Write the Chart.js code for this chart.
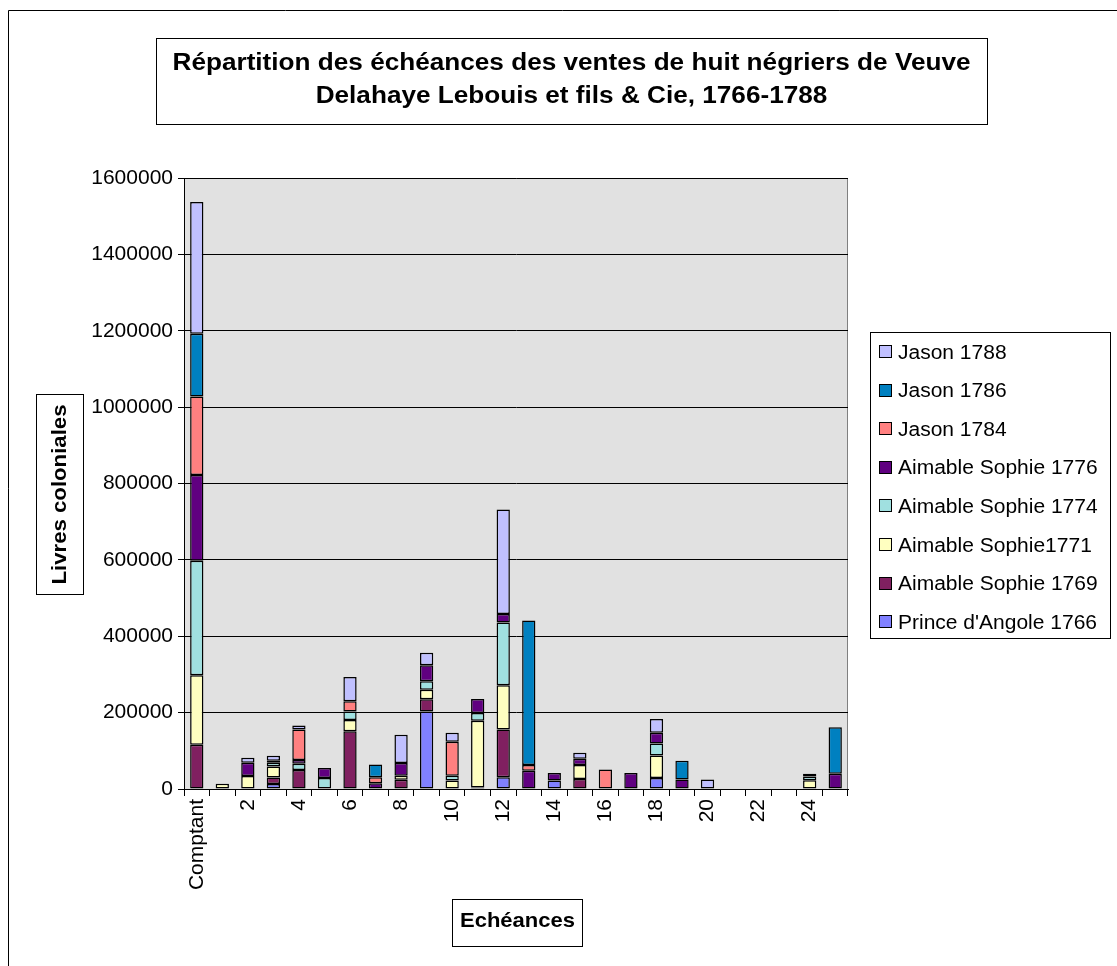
<!DOCTYPE html>
<html><head><meta charset="utf-8">
<script src="https://cdn.jsdelivr.net/npm/chart.js@4/dist/chart.umd.min.js"></script>
<style>html,body{margin:0;padding:0;background:#fff;overflow:hidden}#wrap{position:relative;width:1117px;height:966px}</style>
</head><body><div id="wrap"><canvas id="c" width="1117" height="966"></canvas></div>
<script>
const categories = ['Comptant','1','2','3','4','5','6','7','8','9','10','11','12','13','14','15','16','17','18','19','20','21','22','23','24','25'];
const tickLabelsShown = ['Comptant','2','4','6','8','10','12','14','16','18','20','22','24'];
const seriesNames = ["Prince d'Angole 1766","Aimable Sophie 1769","Aimable Sophie1771","Aimable Sophie 1774","Aimable Sophie 1776","Jason 1784","Jason 1786","Jason 1788"];
const seriesColors = ['#8080FF','#802060','#FFFFC0','#A0E0E0','#600080','#FF8080','#0080C0','#C0C0FF'];
//                  Cpt   1     2     3     4     5     6     7     8     9      10    11     12     13     14    15    16    17    18    19    20    21 22 23 24    25
const prince1766 = [0,    0,    0,    13000,0,    0,    0,    0,    0,    203000,0,    0,     31000, 0,     22000,0,    0,    0,    29000,0,    0,    0, 0, 0, 0,    0];
const sophie1769 = [116000,0,   0,    17000,50000,0,    151000,0,   24000,32000, 0,    4000,  125000,0,     0,    26000,0,    0,    0,    0,    0,    0, 0, 0, 0,    0];
const sophie1771 = [182000,14000,34000,29000,0,   0,    30000,0,    11000,25000, 22000,175000,116000,0,     0,    37000,0,    0,    59000,0,    0,    0, 0, 0, 23000,0];
const sophie1774 = [300000,0,   0,    10000,16000,29000,22000,0,    0,    22000, 13000,20000, 164000,0,     0,    0,    0,    0,    31000,0,    0,    0, 0, 0, 10000,0];
const sophie1776 = [224000,0,   35000,5000, 10000,26000,0,    15000,33000,42000, 0,    37000, 22000, 48000, 20000,16000,0,    42000,28000,25000,0,    0, 0, 0, 7000, 40000];
const jason1784  = [206000,0,   0,    0,    80000,0,    27000,16000,0,    0,     89000,0,     0,     15000, 0,    0,    51000,0,    0,    0,    0,    0, 0, 0, 0,    0];
const jason1786  = [164000,0,   0,    0,    0,    0,    0,    33000,0,    0,     0,    0,     0,     378000,0,    0,    0,    0,    0,    49000,0,    0, 0, 0, 0,    122000];
const jason1788  = [345000,0,   13000,13000,10000,0,    63000,0,    74000,33000, 23000,0,     274000,0,     0,    16000,0,    0,    36000,0,    25000,0, 0, 0, 0,    0];
const seriesValues = [prince1766,sophie1769,sophie1771,sophie1774,sophie1776,jason1784,jason1786,jason1788];
const yTickValues = [0,200000,400000,600000,800000,1000000,1200000,1400000,1600000];

const FONT = 'Liberation Sans, Arial, sans-serif';

const datasets = seriesNames.map((n,i)=>({
  label:n,
  data: seriesValues[i].map(v => v === 0 ? null : v),
  backgroundColor: seriesColors[i],
  borderColor:'#000',
  borderWidth:1.5,
  borderSkipped:false,
  barPercentage:0.52,
  categoryPercentage:1.0
}));

function drawScaled(ctx, text, cx, cy, sx){
  ctx.save();
  ctx.translate(cx, cy);
  ctx.scale(sx, 1);
  ctx.textAlign = 'center';
  ctx.textBaseline = 'middle';
  ctx.fillText(text, 0, 0);
  ctx.restore();
}

const decor = {
  id:'decor',
  beforeDraw(chart){
    const {ctx, chartArea:a} = chart;
    ctx.save();
    ctx.fillStyle = '#fff';
    ctx.fillRect(0,0,chart.width,chart.height);
    ctx.fillStyle = '#E1E1E1';
    ctx.fillRect(a.left, a.top, a.right-a.left, a.bottom-a.top);
    ctx.strokeStyle = '#808080';
    ctx.lineWidth = 1;
    ctx.strokeRect(a.left+0.5, a.top+0.5, a.right-a.left-1, a.bottom-a.top);
    ctx.restore();
  },
  afterDraw(chart){
    const ctx = chart.ctx;
    ctx.save();
    ctx.strokeStyle = '#000';
    ctx.lineWidth = 1;
    // outer chart border (continues beyond the window)
    ctx.beginPath();
    ctx.moveTo(8.5, 966); ctx.lineTo(8.5, 10.5); ctx.lineTo(1117, 10.5);
    ctx.stroke();
    // title box
    ctx.fillStyle='#fff';
    ctx.fillRect(156.5,38.5,831,86);
    ctx.strokeRect(156.5, 38.5, 831, 86);
    ctx.fillStyle = '#000';
    ctx.font = 'bold 23px ' + FONT;
    const t1 = 'Répartition des échéances des ventes de huit négriers de Veuve';
    const t2 = 'Delahaye Lebouis et fils & Cie, 1766-1788';
    const sx = 798 / ctx.measureText(t1).width;
    drawScaled(ctx, t1, 571.5, 64, sx);
    drawScaled(ctx, t2, 571.5, 97, sx);
    // y title box
    ctx.fillStyle='#fff';
    ctx.fillRect(36.5,394.5,47,200);
    ctx.strokeRect(36.5, 394.5, 47, 200);
    ctx.fillStyle = '#000';
    ctx.font = 'bold 21px ' + FONT;
    ctx.save();
    ctx.translate(60, 494.5);
    ctx.rotate(-Math.PI/2);
    drawScaled(ctx, 'Livres coloniales', 0, 0, 180/ctx.measureText('Livres coloniales').width);
    ctx.restore();
    // x title box
    ctx.fillStyle='#fff';
    ctx.fillRect(452.5,899.5,130,47);
    ctx.strokeRect(452.5, 899.5, 130, 47);
    ctx.fillStyle = '#000';
    ctx.font = 'bold 21px ' + FONT;
    drawScaled(ctx, 'Echéances', 517.5, 921, 115/ctx.measureText('Echéances').width);
    // legend
    ctx.fillStyle='#fff';
    ctx.fillRect(870.5,332.5,240,306);
    ctx.strokeRect(870.5, 332.5, 240, 306);
    ctx.font = '20px ' + FONT;
    ctx.textAlign = 'left';
    ctx.textBaseline = 'middle';
    const n = seriesNames.length;
    for (let k=0;k<n;k++){
      const i = n-1-k;
      const cy = 352 + k*38.6;
      ctx.fillStyle = seriesColors[i];
      ctx.fillRect(879.5, Math.round(cy)-6.5, 12, 12);
      ctx.strokeStyle='#000';
      ctx.strokeRect(879.5, Math.round(cy)-6.5, 12, 12);
      ctx.fillStyle = '#000';
      ctx.save();
      ctx.translate(898, cy+1);
      ctx.scale(1.05,1);
      ctx.fillText(seriesNames[i], 0, 0);
      ctx.restore();
    }
    ctx.restore();
  }
};

new Chart(document.getElementById('c'), {
  type:'bar',
  data:{labels:categories, datasets},
  options:{
    responsive:false,
    animation:false,
    devicePixelRatio:1,
    layout:{padding:{left:0, top:178, right:269, bottom:0}},
    plugins:{legend:{display:false}, title:{display:false}, tooltip:{enabled:false}},
    scales:{
      x:{
        stacked:true,
        grid:{offset:true, drawOnChartArea:false, drawTicks:true, tickLength:7, color:'#000', lineWidth:1},
        border:{display:true, color:'#000', width:1},
        ticks:{autoSkip:false, maxRotation:90, minRotation:90, padding:3, color:'#000',
          font:{family:FONT, size:21},
          callback:(v,i)=> tickLabelsShown.includes(categories[i]) ? categories[i] : ''},
        afterFit:s=>{ s.height = 966-789; }
      },
      y:{
        stacked:true, min:0, max:1600000,
        afterBuildTicks:s=>{ s.ticks = yTickValues.map(v=>({value:v})); },
        ticks:{color:'#000', padding:5, font:{family:FONT, size:21}, callback:v=>String(v)},
        grid:{color:'#000', lineWidth:1, tickLength:6},
        border:{display:true, color:'#000', width:1},
        afterFit:s=>{ s.width = 184; }
      }
    }
  },
  plugins:[decor]
});
</script>
</body></html>
